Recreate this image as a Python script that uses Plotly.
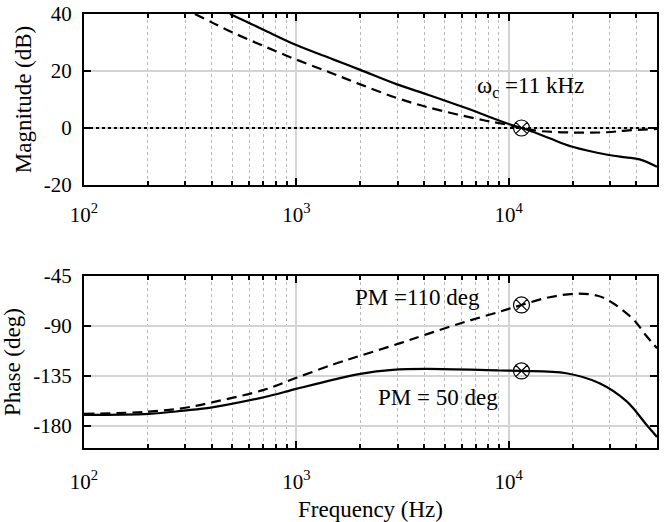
import numpy as np
import plotly.graph_objects as go
from plotly.subplots import make_subplots

# ---------------- data ----------------
freq_mag_solid = [487, 583, 700, 1000, 1500, 2000, 2960, 4200, 6300, 10000, 11500,
                  12600, 15600, 20000, 28800, 35600, 41400, 50000]
mag_solid = [40, 37.3, 34.5, 29.1, 24.0, 20.4, 15.4, 11.6, 7.0, 1.4, 0.0,
             -0.95, -3.6, -6.6, -9.3, -10.3, -11.0, -13.6]

freq_mag_dash = [333, 406, 505, 700, 1000, 1440, 2000, 2960, 4200, 7550,
                 10000, 11500, 14000, 20000, 29000, 35600, 50000]
mag_dash = [40, 36.8, 33.4, 28.8, 24.0, 19.5, 15.3, 10.6, 7.2, 2.8,
            1.05, 0.0, -1.05, -1.6, -1.5, -0.9, -0.35]

freq_ph_solid = [100, 202, 295, 401, 703, 1000, 1500, 2000, 2840, 4100, 9100, 11500,
                 18700, 26800, 36000, 44600, 50000]
ph_solid = [-170.2, -169.3, -166.3, -163.3, -154.2, -146.7, -138.3, -133.1, -129.5, -128.6, -130.1, -130.5,
            -132.6, -141.6, -158.0, -179.0, -190.0]

freq_ph_dash = [100, 202, 295, 401, 703, 1000, 1500, 2000, 3090, 4100, 6300, 9100, 11500,
                15600, 21000, 26000, 30000, 38700, 44600, 50000]
ph_dash = [-169.3, -167.2, -163.9, -158.8, -147.6, -136.7, -124.5, -116.8, -105.4, -97.5, -86.0, -77.0, -71.0,
           -64.0, -60.8, -62.5, -67.6, -84.0, -99.0, -110.0]

crossover_freq = 11500
mag_marker = [0]
ph_markers = [-130.5, -71.0]

x_tickvals = [100, 1000, 10000]
x_ticktext = ["10<sup>2</sup>", "10<sup>3</sup>", "10<sup>4</sup>"]
minor_vals = [m * d for d in (100, 1000, 10000) for m in range(2, 10) if m * d <= 50000]

mag_ticks = [-20, 0, 20, 40]
mag_ticktext = ["-20", "0", "20", "40"]
ph_ticks = [-180, -135, -90, -45]
ph_ticktext = ["-180", "-135", "-90", "-45"]

# ---------------- figure ----------------
FONT = "Liberation Serif"
fig = make_subplots(rows=2, cols=1, vertical_spacing=0.0)

line_solid = dict(color="black", width=2.2, shape="spline", smoothing=1.0)
line_dash = dict(color="black", width=2.2, dash="10px,6px", shape="spline", smoothing=1.0)

fig.add_trace(go.Scatter(x=freq_mag_dash, y=mag_dash, mode="lines", line=line_dash), row=1, col=1)
fig.add_trace(go.Scatter(x=freq_mag_solid, y=mag_solid, mode="lines", line=line_solid), row=1, col=1)
fig.add_trace(go.Scatter(x=freq_ph_dash, y=ph_dash, mode="lines", line=line_dash), row=2, col=1)
fig.add_trace(go.Scatter(x=freq_ph_solid, y=ph_solid, mode="lines", line=line_solid), row=2, col=1)

mk = dict(symbol="circle-x-open", size=16, color="black", line=dict(width=1.2, color="black"))
fig.add_trace(go.Scatter(x=[crossover_freq], y=mag_marker, mode="markers", marker=mk), row=1, col=1)
fig.add_trace(go.Scatter(x=[crossover_freq] * 2, y=ph_markers, mode="markers", marker=mk), row=2, col=1)

# 0 dB dotted line
fig.add_shape(type="line", xref="x domain", yref="y", x0=0, x1=1, y0=0, y1=0,
              line=dict(color="black", width=2, dash="dot"), layer="above")

xcommon = dict(
    type="log", range=[np.log10(100), np.log10(50000)],
    tickvals=x_tickvals, ticktext=x_ticktext,
    showline=True, linecolor="black", linewidth=2, mirror="ticks",
    ticks="inside", ticklen=7, tickwidth=2, tickcolor="black",
    showgrid=True, gridcolor="#d4d4d4", gridwidth=2,
    minor=dict(tickvals=minor_vals, ticks="inside", ticklen=4, tickwidth=1.5, tickcolor="black",
               showgrid=True, gridcolor="#b8b8b8", gridwidth=1.3, griddash="dot"),
    tickfont=dict(family=FONT, size=21, color="black"),
    zeroline=False,
    automargin=False,
)
fig.update_xaxes(**xcommon)
fig.update_xaxes(ticklabelstandoff=10, row=1, col=1)
fig.update_xaxes(ticklabelstandoff=14,
                 title=dict(text="Frequency (Hz)", font=dict(family=FONT, size=23, color="black"),
                            standoff=10), row=2, col=1)

ycommon = dict(
    showline=True, linecolor="black", linewidth=2, mirror="ticks",
    ticks="inside", ticklen=7, tickwidth=2, tickcolor="black",
    showgrid=True, gridcolor="#d4d4d4", gridwidth=2, zeroline=False,
    tickfont=dict(family=FONT, size=21, color="black"),
    ticklabelstandoff=6,
    automargin=False,
)
fig.update_yaxes(**ycommon)
fig.update_yaxes(range=[-20, 40], tickvals=mag_ticks, ticktext=mag_ticktext,
                 title=dict(text="Magnitude (dB)", font=dict(family=FONT, size=23, color="black"), standoff=6),
                 domain=[0.606, 1.0], row=1, col=1)
fig.update_yaxes(range=[-200, -45], tickvals=ph_ticks, ticktext=ph_ticktext,
                 title=dict(text="Phase (deg)", font=dict(family=FONT, size=23, color="black"), standoff=6),
                 domain=[0.0, 0.396], row=2, col=1)

ann_font = dict(family=FONT, size=23, color="black")
fig.add_annotation(x=np.log10(6950), y=14.5, xref="x", yref="y", text="ω<sub>c</sub> =11 kHz",
                   showarrow=False, xanchor="left", yanchor="middle", font=ann_font)
fig.add_annotation(x=np.log10(1845), y=-64, xref="x2", yref="y2", text="PM =110 deg",
                   showarrow=False, xanchor="left", yanchor="middle", font=ann_font)
fig.add_annotation(x=np.log10(2385), y=-154.5, xref="x2", yref="y2", text="PM = 50 deg",
                   showarrow=False, xanchor="left", yanchor="middle", font=ann_font)

fig.update_layout(
    width=669, height=522,
    margin=dict(l=84, r=12, t=14, b=74),
    plot_bgcolor="white", paper_bgcolor="white",
    showlegend=False,
    font=dict(family=FONT, color="black"),
)

fig.write_html("out.html")
